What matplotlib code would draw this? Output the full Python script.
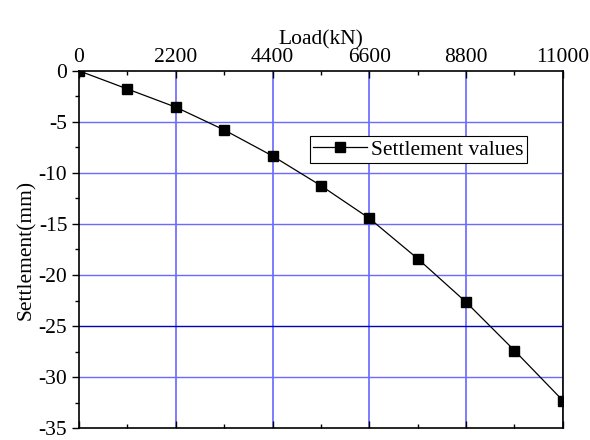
import matplotlib.pyplot as plt
from matplotlib.ticker import MultipleLocator

plt.rcParams['font.family'] = ['Liberation Serif', 'DejaVu Serif']
plt.rcParams['axes.unicode_minus'] = False

# Data
load = [0, 1100, 2200, 3300, 4400, 5500, 6600, 7700, 8800, 9900, 11000]
settlement = [0, -1.78, -3.56, -5.79, -8.34, -11.25, -14.45, -18.4, -22.66, -27.4, -32.3]
x_ticks = [0, 2200, 4400, 6600, 8800, 11000]
y_ticks = [0, -5, -10, -15, -20, -25, -30, -35]

fig = plt.figure(figsize=(5.9, 4.4), dpi=100)
ax = fig.add_axes([0.134, 0.027, 0.820, 0.812])

# grid lines
for x in x_ticks[1:]:
    ax.axvline(x, color='#5a5aff', lw=1.1, zorder=1)
for y in y_ticks[1:-1]:
    c = '#0000c0' if y == -25 else '#6a6aff'
    ax.axhline(y, color=c, lw=1.0, zorder=1)

ax.plot(load, settlement, color='black', lw=0.9, marker='s', markersize=6.5,
        label='Settlement values', zorder=3)

ax.set_xlim(0, 11000)
ax.set_ylim(-35, 0)
ax.xaxis.tick_top()
ax.xaxis.set_label_position('top')
ax.set_xticks(x_ticks)
ax.xaxis.set_minor_locator(MultipleLocator(1100))
ax.set_yticks(y_ticks)
ax.yaxis.set_minor_locator(MultipleLocator(2.5))
ax.tick_params(axis='x', which='both', direction='in', top=True, bottom=True,
               labelbottom=False, labelsize=15.5, pad=3)
ax.tick_params(axis='y', which='both', direction='out', left=True, labelsize=15.5)
ax.tick_params(which='major', length=5, width=1)
ax.tick_params(which='minor', length=3, width=1)
ax.set_xlabel('Load(kN)', fontsize=15.5, labelpad=2)
ax.set_ylabel('Settlement(mm)', fontsize=15.5, labelpad=2)

for s in ax.spines.values():
    s.set_linewidth(1.2)

leg = ax.legend(loc='upper right', bbox_to_anchor=(0.926, 0.817), fontsize=15.5,
                frameon=True, fancybox=False, edgecolor='black', framealpha=1,
                handlelength=2.5, handletextpad=0.2, borderpad=0.15,
                borderaxespad=0)
leg.get_frame().set_linewidth(0.8)

fig.savefig('out.png', dpi=100)
